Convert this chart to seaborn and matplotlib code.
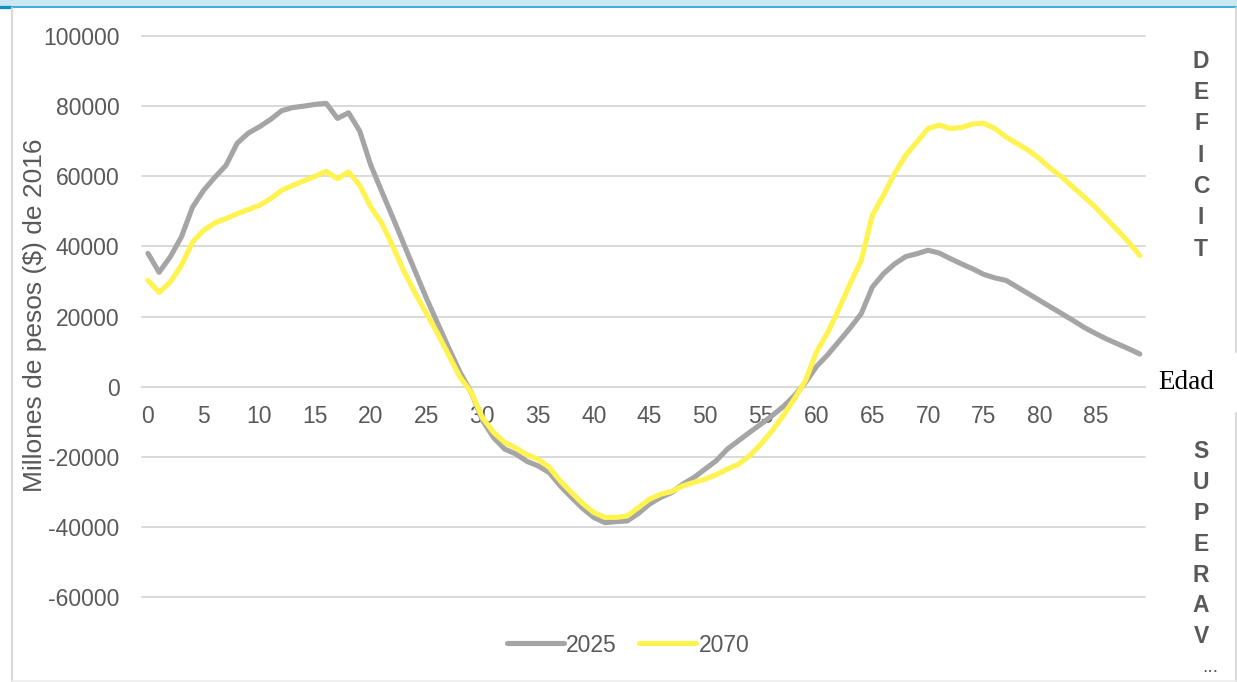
import matplotlib
matplotlib.use("Agg")
import matplotlib.pyplot as plt
import pandas as pd
import seaborn as sns
from matplotlib.lines import Line2D
from matplotlib.patches import Rectangle

# Ages (single years) on the category axis
ages = list(range(90))

# Fiscal balance by age, millions of 2016 pesos
deficit_2025 = [
    38000, 32600, 37000, 42700, 51200, 56000, 59700, 63100, 69400, 72300,
    74100, 76200, 78700, 79600, 80000, 80500, 80800, 76500, 78100, 72900,
    63100, 55500, 48000, 40300, 32700, 25100, 18000, 10900, 4100, -1600,
    -9500, -14500, -17800, -19200, -21300, -22600, -24500, -28300, -31600, -34700,
    -37300, -38800, -38500, -38300, -36200, -33500, -31600, -30200, -27800, -25900,
    -23500, -21100, -17800, -15400, -13000, -10700, -8300, -5700, -2600, 1200,
    5800, 9100, 12900, 16700, 20800, 28400, 32200, 35000, 37100, 37900,
    38900, 38100, 36500, 35000, 33600, 32000, 31000, 30300, 28400, 26500,
    24600, 22700, 20800, 18900, 16900, 15200, 13600, 12200, 10800, 9300,
]
deficit_2070 = [
    30300, 26900, 29800, 34600, 41200, 44600, 46700, 47900, 49300, 50500,
    51700, 53600, 56000, 57400, 58700, 60000, 61400, 59300, 61200, 57400,
    51200, 46500, 39800, 32700, 26500, 20800, 15100, 8900, 2700, -1600,
    -8800, -13000, -15900, -17500, -19400, -20700, -23000, -26900, -30200, -33300,
    -35900, -37300, -37300, -36900, -34500, -32100, -30700, -29900, -28300, -27300,
    -26400, -25100, -23500, -22100, -19700, -16400, -12600, -8300, -3500, 1700,
    10000, 15500, 22200, 29300, 36000, 48900, 54600, 60800, 66000, 69800,
    73600, 74600, 73600, 73900, 74900, 75100, 73600, 71200, 69300, 67400,
    65000, 62200, 59800, 56900, 54100, 51200, 47900, 44600, 41200, 37400,
]
years = ["2025", "2070"]
x_ticks = list(range(0, 90, 5))
y_ticks = list(range(-60000, 100001, 20000))

y_title = "Millones de pesos ($) de 2016"
x_title = "Edad"
top_word = "DEFICIT"
bottom_word = "SUPERAV"

sns.set_theme(style="white")
plt.rcParams["font.family"] = ["Liberation Sans", "DejaVu Sans"]

TXT = "#595959"
GRID = "#D9D9D9"
palette = {"2025": "#A5A5A5", "2070": "#FFF350"}

W, H = 1237, 682
fig = plt.figure(figsize=(W / 100, H / 100), dpi=100)
ax = fig.add_axes([142.4 / W, 1 - 597 / H, 1003 / W, 561 / H])

df = pd.DataFrame({
    "Edad": ages * 2,
    "valor": deficit_2025 + deficit_2070,
    "Año": [years[0]] * len(ages) + [years[1]] * len(ages),
})
sns.lineplot(data=df, x="Edad", y="valor", hue="Año", hue_order=years,
             palette=palette, linewidth=3.7, ax=ax, legend=False, zorder=3)
for ln in ax.lines:
    ln.set_solid_joinstyle("round")
    ln.set_solid_capstyle("round")

ax.set_xlim(-0.5, 89.5)
ax.set_ylim(-60000, 100000)
ax.set_xticks(x_ticks)
ax.set_yticks(y_ticks)
ax.set_xticklabels([str(t) for t in x_ticks])
ax.set_yticklabels([str(t) for t in y_ticks])
ax.grid(axis="y", color=GRID, linewidth=1.4)
ax.grid(axis="x", visible=False)
for gl in ax.get_ygridlines():
    gl.set_clip_on(False)
ax.set_axisbelow(True)
for side in ["top", "right", "left"]:
    ax.spines[side].set_visible(False)
ax.spines["bottom"].set_position(("data", 0))
ax.spines["bottom"].set_color(GRID)
ax.spines["bottom"].set_linewidth(1.4)
ax.tick_params(axis="x", length=0, pad=13, labelsize=16.5, labelcolor=TXT)
ax.tick_params(axis="y", length=0, pad=16.5, labelsize=16.5, labelcolor=TXT)
ax.set_xlabel("")
ax.set_ylabel(y_title, fontsize=19, color=TXT)
ax.yaxis.set_label_coords((47 - 142.4) / 1003, (597 - 315) / 561)

fig.legend(handles=ax.lines[:2], labels=years, loc="center",
           bbox_to_anchor=(628 / W, 1 - 645 / H), ncol=2, frameon=False,
           handlelength=2.5, handletextpad=0.1, columnspacing=0.95,
           fontsize=16.5, labelcolor=TXT)

# Axis title at the zero line
fig.text(1186 / W, 1 - 383 / H, x_title, family=["Liberation Serif", "DejaVu Serif"],
         fontsize=19.5, color="black", ha="center", va="center")

# Vertical words on the right margin
for i, ch in enumerate(top_word):
    fig.text(1201 / W, 1 - (61 + 31.4 * i) / H, ch, ha="center", va="center",
             fontweight="bold", fontsize=16.5, color=TXT)
for i, ch in enumerate(bottom_word):
    fig.text(1201 / W, 1 - (452 + 30.8 * i) / H, ch, ha="center", va="center",
             fontweight="bold", fontsize=16.5, color=TXT)
fig.text(1210 / W, 1 - 668 / H, "...", ha="center", va="center",
         fontsize=14, color=TXT)

# Page frame
fig.add_artist(Rectangle((0, 1 - 6 / H), 1, 6 / H, transform=fig.transFigure,
                         facecolor="#C9E8F1", edgecolor="none"))
fig.add_artist(Line2D([0, 1], [1 - 6.5 / H] * 2, transform=fig.transFigure,
                      color="#1BA1D0", linewidth=1.2))
fig.add_artist(Line2D([0, 10 / W], [1 - 6.5 / H] * 2, transform=fig.transFigure,
                      color="#1290C0", linewidth=2.4))
fig.add_artist(Line2D([11.5 / W] * 2, [0, 1 - 8 / H], transform=fig.transFigure,
                      color=GRID, linewidth=1.5))
fig.add_artist(Line2D([1235.5 / W] * 2, [1 - 352 / H, 1 - 8 / H], transform=fig.transFigure,
                      color=GRID, linewidth=1.5))
fig.add_artist(Line2D([1235.5 / W] * 2, [0, 1 - 413 / H], transform=fig.transFigure,
                      color=GRID, linewidth=1.5))
fig.add_artist(Line2D([11.5 / W, 1235.5 / W], [1.5 / H] * 2, transform=fig.transFigure,
                      color="#EEEEEE", linewidth=1.2))

fig.savefig("out.png", dpi=100, facecolor="white")
